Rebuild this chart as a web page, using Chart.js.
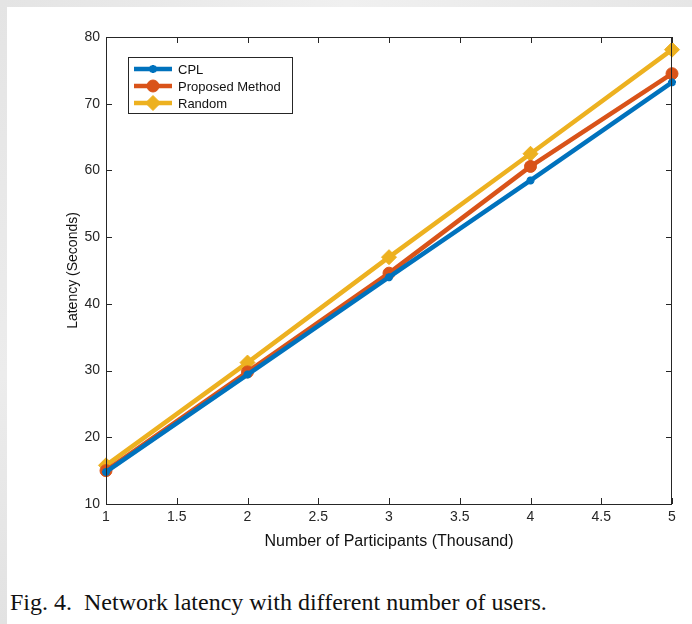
<!DOCTYPE html>
<html>
<head>
<meta charset="utf-8">
<script src="https://cdn.jsdelivr.net/npm/chart.js@4.4.1/dist/chart.umd.min.js"></script>
<style>
  html, body { margin: 0; padding: 0; background: #fff; }
  body { width: 692px; height: 624px; position: relative; overflow: hidden; }
  #topStrip { position: absolute; left: 0; top: 0; width: 692px; height: 7px;
    background: linear-gradient(to right, #e4e4e4, #f0f0f0 50%, #e6e6e6); }
  #leftStrip { position: absolute; left: 0; top: 0; width: 7px; height: 624px;
    background: linear-gradient(to bottom, #e4e4e4, #ececec 60%, #e2e2e2); }
  #wrap { position: absolute; left: 0; top: 0; width: 692px; height: 570px; }
  #caption { position: absolute; left: 10px; top: 590px; margin: 0;
    font-family: "Liberation Serif", "Times New Roman", serif; font-size: 24px;
    color: #111; white-space: pre; line-height: 1; }
</style>
</head>
<body>
<div id="topStrip"></div>
<div id="leftStrip"></div>
<div id="wrap"><canvas id="latencyChart"></canvas></div>
<p id="caption">Fig. 4.  Network latency with different number of users.</p>

<script>
// ─── Data ────────────────────────────────────────
const participants = [1, 2, 3, 4, 5];
const cplLatency      = [14.8, 29.4, 44.0, 58.5, 73.2];
const proposedLatency = [15.0, 29.8, 44.6, 60.6, 74.5];
const randomLatency   = [15.8, 31.2, 47.0, 62.5, 78.1];
const yTicks = [10, 20, 30, 40, 50, 60, 70, 80];

const AXIS = "#262626";
const FONT = "'Liberation Sans', Arial, sans-serif";

const toPoints = ys => participants.map((x, i) => ({ x, y: ys[i] }));

// Box frame + inward ticks on all four sides (MATLAB look)
const boxTicks = {
    id: "boxTicks",
    afterDraw(chart) {
        const { ctx, chartArea: a, scales } = chart;
        const len = 6;
        ctx.save();
        ctx.strokeStyle = AXIS;
        ctx.lineWidth = 1;
        ctx.strokeRect(a.left + 0.5, a.top + 0.5, a.right - a.left - 1, a.bottom - a.top);
        ctx.beginPath();
        scales.x.ticks.forEach(t => {
            const px = Math.round(scales.x.getPixelForValue(t.value)) + 0.5;
            ctx.moveTo(px, a.bottom); ctx.lineTo(px, a.bottom - len);
            ctx.moveTo(px, a.top);    ctx.lineTo(px, a.top + len);
        });
        scales.y.ticks.forEach(t => {
            const py = Math.round(scales.y.getPixelForValue(t.value)) + 0.5;
            ctx.moveTo(a.left, py);  ctx.lineTo(a.left + len, py);
            ctx.moveTo(a.right, py); ctx.lineTo(a.right - len, py);
        });
        ctx.stroke();
        ctx.restore();
    }
};

// Boxed legend in upper-left of the plot
const boxLegend = {
    id: "boxLegend",
    afterDatasetsDraw(chart) {
        const { ctx, chartArea: a } = chart;
        const x0 = a.left + 22, y0 = a.top + 20, w = 164, h = 56;
        ctx.save();
        ctx.fillStyle = "#fff";
        ctx.fillRect(x0, y0, w, h);
        ctx.strokeStyle = AXIS;
        ctx.lineWidth = 1;
        ctx.strokeRect(x0 + 0.5, y0 + 0.5, w, h);
        chart.data.datasets.forEach((ds, i) => {
            const cy = y0 + 12 + i * 17;
            ctx.strokeStyle = ds.borderColor;
            ctx.lineWidth = ds.borderWidth;
            ctx.beginPath();
            ctx.moveTo(x0 + 6, cy); ctx.lineTo(x0 + 44, cy);
            ctx.stroke();
            ctx.fillStyle = ds.backgroundColor;
            ctx.strokeStyle = ds.borderColor;
            ctx.lineWidth = ds.pointBorderWidth;
            Chart.helpers.drawPoint(ctx, { pointStyle: ds.pointStyle, radius: ds.pointRadius, borderWidth: ds.pointBorderWidth, rotation: 0 }, x0 + 25, cy);
            ctx.fillStyle = "#111";
            ctx.font = "13px " + FONT;
            ctx.textBaseline = "middle";
            ctx.fillText(ds.label, x0 + 50, cy + 1);
        });
        ctx.restore();
    }
};

function makeSet(label, data, color, style, radius) {
    return {
        label, data: toPoints(data),
        borderColor: color, backgroundColor: color,
        borderWidth: 4.5, pointStyle: style, pointRadius: radius,
        pointBorderWidth: style === "star" ? 2.5 : 1,
        pointHoverRadius: radius, tension: 0, clip: false
    };
}

function init() {
    const ctx = document.getElementById("latencyChart").getContext("2d");
    new Chart(ctx, {
        type: "line",
        data: {
            datasets: [
                makeSet("CPL", cplLatency, "#0072BD", "star", 4),
                makeSet("Proposed Method", proposedLatency, "#D95319", "circle", 6),
                makeSet("Random", randomLatency, "#EDB120", "rectRot", 7.5)
            ]
        },
        options: {
            responsive: true, maintainAspectRatio: false, animation: false,
            layout: { padding: { left: 0, top: 37, right: 20, bottom: 0 } },
            plugins: { legend: { display: false }, tooltip: { enabled: false } },
            scales: {
                x: {
                    type: "linear", min: 1, max: 5,
                    afterFit: s => { s.height = 66; },
                    grid: { display: false, drawTicks: false },
                    border: { display: false },
                    ticks: { stepSize: 0.5, padding: 5, color: AXIS, font: { family: FONT, size: 14 },
                             callback: v => String(v) },
                    title: { display: true, text: "Number of Participants (Thousand)", color: "#111",
                             font: { family: FONT, size: 16 }, padding: { top: 0, bottom: 19 } }
                },
                y: {
                    type: "linear", min: 10, max: 80,
                    afterFit: s => { s.width = 106; },
                    afterBuildTicks: s => { s.ticks = yTicks.map(v => ({ value: v })); },
                    grid: { display: false, drawTicks: false },
                    border: { display: false },
                    ticks: { padding: 6, color: AXIS, font: { family: FONT, size: 14 } },
                    title: { display: true, text: "Latency (Seconds)", color: "#111",
                             font: { family: FONT, size: 14 }, padding: { top: 65, bottom: 0 } }
                }
            }
        },
        plugins: [boxTicks, boxLegend]
    });
}

window.addEventListener("DOMContentLoaded", init);
</script>
</body>
</html>
